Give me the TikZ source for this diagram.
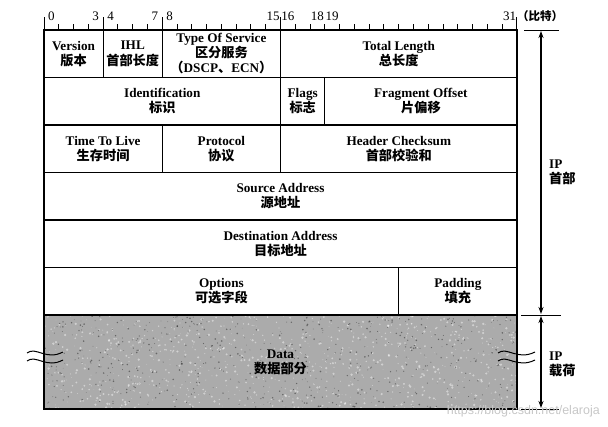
\documentclass[tikz,border=0pt]{standalone}
\usepackage{fontspec}
\setmainfont{Liberation Serif}
\newfontfamily\cjk{Noto Sans CJK SC}
\newfontfamily\wmfont{Liberation Sans}
\usetikzlibrary{arrows.meta}
\newcommand{\zh}[1]{{\cjk #1}}

\begin{document}
\begin{tikzpicture}[x=1pt,y=-1pt,
		field/.style={draw,line width=1.1pt,minimum height=47.5pt,inner sep=0pt,align=center,font=\fontsize{13.2}{15.2}\selectfont\bfseries},
		caption/.style={inner sep=0pt,align=center,font=\fontsize{13.2}{15.2}\selectfont\bfseries},
		bitnum/.style={inner sep=0pt,font=\fontsize{13}{13}\selectfont},
		span/.style={{Stealth[length=7pt,width=5pt]}-{Stealth[length=7pt,width=5pt]},line width=1.3pt,shorten <=1pt,shorten >=1pt}]
		\useasboundingbox (0,0) rectangle (608,427);
		% data part, grey and speckled
		\fill[black!33] (44,315) rectangle (517,409);
		\pgfmathsetseed{17}
		\foreach \i in {1,...,900} {\fill[white,opacity=0.45] ({44+473*rnd},{315+94*rnd}) circle ({0.3+1.0*rnd});}
		\foreach \i in {1,...,600} {\fill[black,opacity=0.4] ({44+473*rnd},{315+94*rnd}) circle ({0.3+0.6*rnd});}
		% header fields, one row is 32 bits
		\node[field,minimum width=59.1pt] (ver) at (73.56,53.75) {Version\\\zh{版本}};
		\node[field,minimum width=59.1pt] (ihl) at (132.7,53.75) {IHL\\\zh{首部长度}};
		\node[field,minimum width=118.25pt] (tos) at (221.4,53.75) {Type Of Service\\\zh{区分服务}\\\zh{（}DSCP\zh{、}ECN\zh{）}};
		\node[field,minimum width=236.5pt] (totlen) at (398.75,53.75) {Total Length\\\zh{总长度}};
		\node[field,minimum width=236.5pt] (ident) at (162.25,101.25) {Identification\\\zh{标识}};
		\node[field,minimum width=44.3pt] (flags) at (302.7,101.25) {Flags\\\zh{标志}};
		\node[field,minimum width=192.1pt] (fragoff) at (420.9,101.25) {Fragment Offset\\\zh{片偏移}};
		\node[field,minimum width=118.25pt] (ttl) at (103.1,148.75) {Time To Live\\\zh{生存时间}};
		\node[field,minimum width=118.25pt] (proto) at (221.4,148.75) {Protocol\\\zh{协议}};
		\node[field,minimum width=236.5pt] (chksum) at (398.75,148.75) {Header Checksum\\\zh{首部校验和}};
		\node[field,minimum width=473pt] (srcaddr) at (280.5,196.25) {Source Address\\\zh{源地址}};
		\node[field,minimum width=473pt] (dstaddr) at (280.5,243.75) {Destination Address\\\zh{目标地址}};
		\node[field,minimum width=354.75pt] (options) at (221.4,291.25) {Options\\\zh{可选字段}};
		\node[field,minimum width=118.25pt] (padding) at (457.9,291.25) {Padding\\\zh{填充}};
		\node[caption] (data) at (280.5,362) {Data\\\zh{数据部分}};
		\draw[line width=2.4pt] (44,30) rectangle (517,409);
		% bit scale
		\foreach \k in {0,...,32}
			\draw[line width=1pt] ({44+14.78*\k},30) -- ++(0,-6);
		\foreach \k in {0,4,8,16,32}
			\draw[line width=1pt] ({44+14.78*\k},30) -- ++(0,-13);
		\foreach \k in {0,3,4,7,8,15,16,18,19,31}
			\node[bitnum] (b\k) at ({44+14.78*(\k+0.5)},16) {\k};
		\node[bitnum,anchor=west,font=\fontsize{11.5}{11.5}\selectfont\bfseries] (unit) at (517,16) {\zh{（比特）}};
		% header / payload spans
		\coordinate (hdtop) at (541,30);
		\coordinate (hdbot) at (541,315);
		\coordinate (plbot) at (541,409);
		\draw[line width=0.9pt] (524,30) -- (559,30);
		\draw[line width=0.9pt] (521,315) -- (561,315);
		\draw[line width=0.9pt] (521,409) -- (559,409);
		\draw[span] (hdtop) -- (hdbot);
		\draw[span] (hdbot) -- (plbot);
		\node[caption,align=left,anchor=west] (iphdr) at (549,172) {IP\\\zh{首部}};
		\node[caption,align=left,anchor=west] (ippay) at (549,364) {IP\\\zh{载荷}};
		% break marks
		\foreach \y in {353,361} {
			\draw[line width=1pt] (27,\y) .. controls (36,{\y-7}) and (46,{\y+8}) .. (63,{\y-1});
			\draw[line width=1pt] (498,\y) .. controls (507,{\y-7}) and (517,{\y+8}) .. (535,{\y-1});
		}
		\node[anchor=east,inner sep=0pt,text=black!22,font=\wmfont\fontsize{12.5}{12.5}\selectfont] (wmark) at (600,411) {https://blog.csdn.net/elaroja};
\end{tikzpicture}
\end{document}
